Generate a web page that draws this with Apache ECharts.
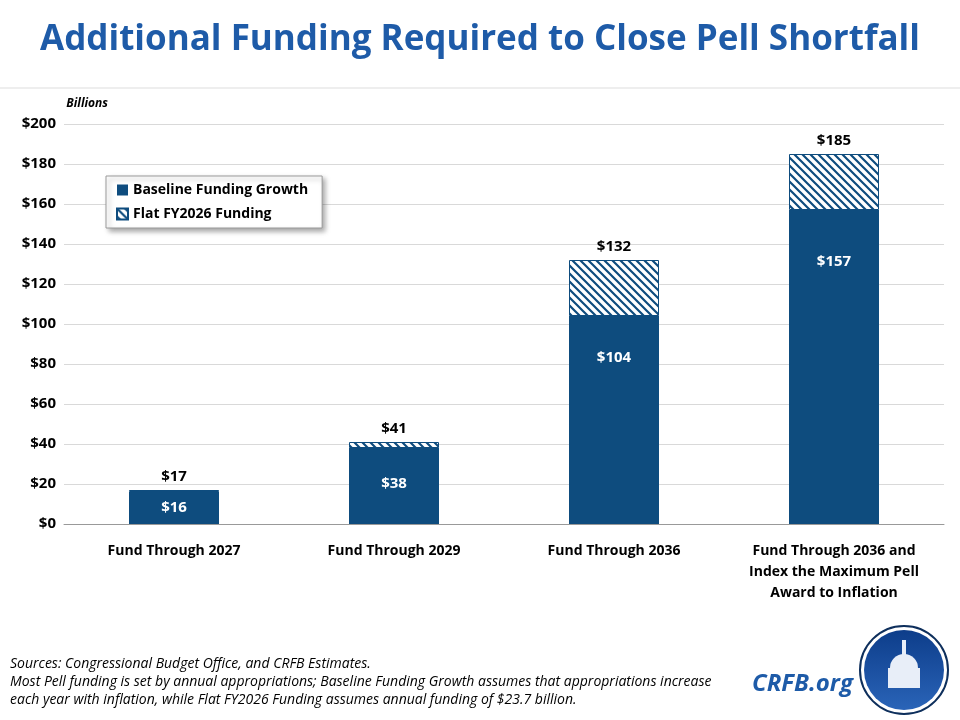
<!DOCTYPE html>
<html><head><meta charset="utf-8">
<script src="https://cdn.jsdelivr.net/npm/echarts@6/dist/echarts.min.js"></script>
<style>html,body{margin:0;background:#fff}#c{width:960px;height:720px}</style>
</head><body><div id="c"></div>
<script>
var categories = ['Fund Through 2027','Fund Through 2029','Fund Through 2036','Fund Through 2036 and\nIndex the Maximum Pell\nAward to Inflation'];
var baseline = [16, 38, 104, 157];
var totals = [17, 41, 132, 185];
var flatExtra = totals.map(function(t,i){return t - baseline[i];});
var yTicks = [0,20,40,60,80,100,120,140,160,180,200];

var cv = document.createElement('canvas'); cv.width = 8; cv.height = 8;
var g = cv.getContext('2d'); g.fillStyle='#fff'; g.fillRect(0,0,8,8);
g.strokeStyle='#0E4C7E'; g.lineWidth=2.2; g.beginPath();
g.moveTo(-2,-2); g.lineTo(10,10); g.moveTo(-2,6); g.lineTo(2,10); g.moveTo(6,-2); g.lineTo(10,2); g.stroke();

var F = 'Open Sans, Noto Sans, sans-serif';
var baseData = baseline.map(function(v){
  return {value:v,label: v<30 ? {position:'inside'} : {position:'insideTop',distance: v<50?28:(v<120?34:44)}};
});
var chart = echarts.init(document.getElementById('c'));
chart.setOption({
  animation:false,
  title:{text:'Additional Funding Required to Close Pell Shortfall',left:'center',top:18,
    textStyle:{color:'#1E5BA8',fontSize:35,fontWeight:'bold',fontFamily:F}},
  legend:{orient:'vertical',left:106,top:176,itemWidth:11,itemHeight:11,itemGap:10,icon:'rect',
    padding:[7,14,7,10],borderColor:'#999',borderWidth:1,backgroundColor:'#fff',
    shadowColor:'rgba(0,0,0,0.35)',shadowBlur:5,shadowOffsetX:3,shadowOffsetY:3,
    textStyle:{fontSize:14,fontWeight:'bold',fontFamily:F,color:'#000'},
    data:['Baseline Funding Growth','Flat FY2026 Funding']},
  grid:{left:64,right:16,top:124,bottom:196},
  xAxis:{type:'category',data:categories,axisTick:{show:false},
    axisLine:{lineStyle:{color:'#999'}},
    axisLabel:{interval:0,fontSize:14,fontWeight:'bold',fontFamily:F,color:'#000',lineHeight:21,margin:17}},
  yAxis:{type:'value',min:0,max:200,interval:20,name:'Billions',nameLocation:'end',
    nameGap:14,nameTextStyle:{align:'right',fontStyle:'italic',fontWeight:'bold',fontSize:12,fontFamily:F,color:'#000',padding:[0,-44,0,0]},
    axisLabel:{formatter:function(v){return yTicks.indexOf(v)>=0?'$'+v:''},fontSize:15,fontWeight:'bold',fontFamily:F,color:'#000'},
    splitLine:{lineStyle:{color:'#d9d9d9'}}},
  series:[
    {name:'Baseline Funding Growth',type:'bar',stack:'a',barWidth:90,data:baseData,
     itemStyle:{color:'#0E4C7E'},
     label:{show:true,formatter:function(p){return '$'+p.value},color:'#fff',fontSize:15,fontWeight:'bold',fontFamily:F}},
    {name:'Flat FY2026 Funding',type:'bar',stack:'a',barWidth:90,data:flatExtra,
     itemStyle:{color:{image:cv,repeat:'repeat'},borderColor:'#0E4C7E',borderWidth:1},
     label:{show:true,position:'top',distance:6,formatter:function(p){return '$'+totals[p.dataIndex]},color:'#000',fontSize:15,fontWeight:'bold',fontFamily:F}}
  ],
  graphic:[
    {type:'line',shape:{x1:0,y1:88,x2:960,y2:88},style:{stroke:'#ddd',lineWidth:1}},
    {type:'text',left:10,top:655,style:{text:'Sources: Congressional Budget Office, and CRFB Estimates.\nMost Pell funding is set by annual appropriations; Baseline Funding Growth assumes that appropriations increase\neach year with inflation, while Flat FY2026 Funding assumes annual funding of $23.7 billion.',
      font:'italic 14px '+F,fill:'#000',lineHeight:18}},
    {type:'text',left:752,top:672,style:{text:'CRFB.org',font:'italic bold 24px '+F,fill:'#1E5BA8'}},
    {type:'circle',shape:{cx:904,cy:670,r:44},style:{fill:'#fff',stroke:'#0E2F5C',lineWidth:2}},
    {type:'circle',shape:{cx:904,cy:670,r:40},style:{fill:new echarts.graphic.LinearGradient(0,0,0,1,[{offset:0,color:'#0D3D8A'},{offset:1,color:'#2A64B8'}])}},
    {type:'rect',shape:{x:888,y:668,width:32,height:20},style:{fill:'#e8eef8'}},
    {type:'circle',shape:{cx:904,cy:668,r:14,startAngle:Math.PI,endAngle:2*Math.PI},style:{fill:'#e8eef8'}},
    {type:'rect',shape:{x:902,y:640,width:4,height:16},style:{fill:'#e8eef8'}}
  ]
});
</script></body></html>
